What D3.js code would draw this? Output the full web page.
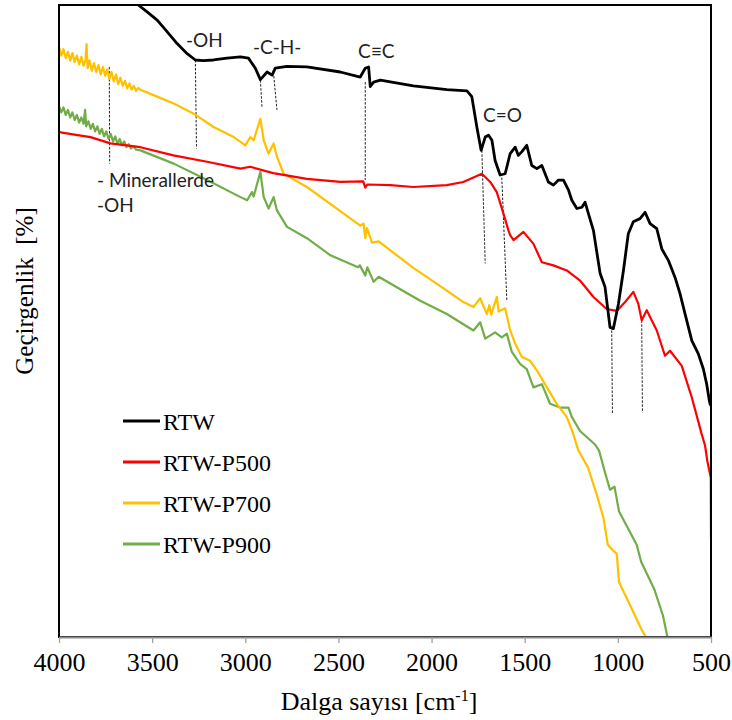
<!DOCTYPE html>
<html>
<head>
<meta charset="utf-8">
<script src="https://cdn.jsdelivr.net/npm/d3@7/dist/d3.min.js"></script>
<style>
  html, body { margin: 0; padding: 0; background: #fff; }
  svg { display: block; }
</style>
</head>
<body>
<div id="chart"></div>
<script>
// ---------------- DATA ----------------
const seriesNames = ["RTW", "RTW-P500", "RTW-P700", "RTW-P900"];
const seriesColors = ["#000000", "#ff0000", "#ffc000", "#70ad47"];
const xTickValues = [4000, 3500, 3000, 2500, 2000, 1500, 1000, 500];
const xTickLabels = ["4000", "3500", "3000", "2500", "2000", "1500", "1000", "500"];
const xTitle = "Dalga sayısı [cm";
const xTitleSup = "-1";
const yTitle = "Geçirgenlik  [%]";

// [wavenumber cm-1, transmittance (arbitrary %)]
const rtw = [
  [4000,110.0],[3800,105.4],[3574,100.0],[3527,98.9],[3473,97.6],[3420,95.8],[3366,93.9],
  [3312,92.3],[3268,91.3],[3225,91.2],[3171,91.3],[3098,91.6],[3026,91.8],[2983,91.6],
  [2946,90.0],[2919,88.2],[2883,89.4],[2856,88.9],[2839,90.0],[2776,90.3],[2669,90.2],
  [2490,89.4],[2383,88.6],[2356,90.0],[2338,90.2],[2329,87.1],[2311,87.8],[2275,88.1],
  [2098,87.2],[1918,86.6],[1810,86.4],[1784,85.5],[1757,80.7],[1734,77.0],[1712,79.1],
  [1694,79.4],[1676,78.6],[1659,75.4],[1632,73.1],[1605,73.3],[1578,76.5],[1551,77.5],
  [1534,76.2],[1515,76.8],[1489,77.8],[1462,74.6],[1435,74.1],[1408,74.6],[1373,72.0],
  [1346,71.5],[1319,72.3],[1292,72.3],[1265,70.7],[1247,69.1],[1220,67.8],[1193,68.0],
  [1176,68.8],[1158,67.0],[1131,64.3],[1095,57.5],[1069,55.4],[1042,49.0],[1024,48.8],
  [997,52.7],[970,58.0],[944,63.8],[917,65.7],[881,66.2],[854,67.2],[827,65.4],[791,64.6],
  [764,61.4],[729,59.6],[693,56.9],[666,54.3],[639,51.1],[603,46.9],[568,44.8],[541,42.4],
  [523,40.0],[509,37.4],[505,36.9],[500,36.6]
];
const rtwP500 = [
  [4000,79.9],[3900,79.4],[3831,79.1],[3724,78.1],[3563,77.5],[3386,76.2],[3205,75.2],[3026,74.1],
  [2973,74.4],[2850,73.4],[2669,72.5],[2490,72.0],[2367,72.1],[2356,71.1],[2345,71.6],
  [2222,71.5],[2098,71.2],[1918,71.5],[1830,72.0],[1730,73.3],[1685,72.0],[1650,70.4],
  [1614,67.0],[1587,64.3],[1578,63.6],[1560,62.8],[1507,64.1],[1453,62.2],[1408,59.3],
  [1346,58.8],[1274,58.0],[1203,56.4],[1131,53.8],[1060,51.9],[1006,51.6],[961,53.0],
  [917,54.6],[890,52.7],[872,50.1],[845,51.7],[791,48.5],[747,44.5],[720,45.3],[657,42.9],
  [603,37.9],[550,32.1],[532,30.3],[520,27.9],[501,25.2],[500,15.6]
];
const rtwP700 = [
  [4000,93.4],[3988,92.0],[3976,93.0],[3964,91.6],[3952,92.6],[3940,91.2],[3928,92.4],
  [3916,91.0],[3904,92.0],[3892,90.6],[3880,91.8],[3868,90.4],[3858,91.2],[3852,93.8],
  [3846,90.0],[3836,91.2],[3824,89.6],[3812,90.8],[3800,89.4],[3788,90.5],[3776,89.0],
  [3764,90.2],[3752,88.8],[3741,89.8],[3730,88.3],[3718,89.4],[3706,87.9],[3694,89.0],
  [3682,87.5],[3670,88.5],[3658,87.2],[3646,88.0],[3634,86.8],[3622,87.6],[3610,86.6],
  [3598,87.2],[3586,86.4],[3574,86.9],[3563,86.6],
  [3473,85.5],[3384,84.4],[3277,82.8],[3170,80.7],[3062,79.1],
  [3000,77.8],[2973,79.1],[2955,78.6],[2919,82.0],[2901,78.6],[2875,76.5],[2848,78.1],
  [2830,76.0],[2794,73.3],[2669,71.2],[2490,67.4],[2383,65.1],[2365,65.4],[2356,63.1],
  [2347,64.7],[2320,62.4],[2284,62.6],[2098,58.4],[1918,54.8],[1829,53.0],[1775,52.2],
  [1739,53.6],[1703,51.1],[1690,52.5],[1680,51.0],[1650,53.8],[1640,51.5],[1605,52.0],
  [1578,48.5],[1551,46.4],[1515,44.3],[1471,43.7],[1435,42.2],[1381,39.5],[1328,36.9],
  [1274,34.8],[1239,32.1],[1212,29.5],[1160,26.8],[1113,22.5],[1077,18.8],[1054,14.6],
  [1030,13.8],[1006,13.2],[994,8.7],[924,4.4],[875,1.3],[840,-0.5]
];
const rtwP900 = [
  [4000,84.0],[3988,83.0],[3976,83.8],[3964,82.6],[3952,83.4],[3940,82.2],[3928,83.0],
  [3916,81.8],[3904,82.6],[3892,81.4],[3880,82.2],[3868,81.2],[3860,83.4],[3854,80.8],
  [3842,81.6],[3830,80.4],[3818,81.2],[3806,80.0],[3794,80.8],[3782,79.6],[3770,80.4],
  [3758,79.2],[3746,80.0],[3734,78.8],[3722,79.6],[3710,78.4],[3698,79.2],[3686,78.0],
  [3674,78.8],[3662,77.8],[3650,78.4],[3638,77.5],[3626,78.0],[3614,77.3],[3600,77.6],
  [3585,77.1],[3563,77.0],
  [3384,74.9],[3205,72.3],[3026,69.6],[2990,69.1],[2964,70.4],[2955,69.7],
  [2919,73.6],[2901,69.6],[2875,67.8],[2848,69.6],[2830,67.5],[2776,64.9],[2669,63.1],
  [2543,60.4],[2395,58.5],[2385,58.8],[2356,57.2],[2345,58.5],[2311,56.2],[2284,57.0],
  [2061,53.2],[1918,51.1],[1775,48.5],[1739,49.8],[1712,47.2],[1659,48.2],[1623,47.4],
  [1596,48.0],[1569,45.1],[1525,43.2],[1489,42.4],[1453,39.5],[1408,40.0],[1364,36.9],
  [1310,36.3],[1265,36.3],[1247,34.8],[1203,32.6],[1124,30.5],[1101,29.5],[1066,25.7],
  [1042,23.3],[1018,23.8],[994,19.9],[899,14.6],[875,11.9],[805,7.6],[758,3.4],[733,-0.1]
];
const seriesData = [rtw, rtwP500, rtwP700, rtwP900];

// peak marker lines: [[wn1, v1], [wn2, v2]]
const peakLines = [
  [[3730, 90.2], [3728, 74.9]],
  [[3268, 91.3], [3262, 77.3]],
  [[2919, 88.1], [2910, 83.7]],
  [[2849, 89.4], [2830, 83.4]],
  [[2356, 87.8], [2356, 72.3]],
  [[1730, 77.0], [1712, 59.1]],
  [[1623, 72.7], [1596, 53.2]],
  [[1033, 48.5], [1029, 35.3]],
  [[872, 50.1], [868, 35.5]]
];
// annotation labels: [text, wn (left edge), v (baseline)]
const peakLabels = [
  ["-OH", 3318, 93.3],
  ["-C-H-", 2959, 92.2],
  ["C≡C", 2395, 91.6],
  ["C=O", 1724, 81.5],
  ["- Minerallerde", 3796, 71.2],
  ["-OH", 3796, 67.2]
];

// ---------------- CHART ----------------
const W = 732, H = 720;
const plot = { left: 59, right: 711, top: 5, bottom: 637 };

const svg = d3.select("#chart").append("svg")
  .attr("width", W).attr("height", H);

const x = d3.scaleLinear().domain([4000, 500]).range([plot.left, plot.right]);
const y = d3.scaleLinear().domain([0, 100]).range([plot.bottom, plot.top]);

svg.append("defs").append("clipPath").attr("id", "clip")
  .append("rect")
  .attr("x", plot.left).attr("y", plot.top)
  .attr("width", plot.right - plot.left).attr("height", plot.bottom - plot.top);

// peak dashed lines
const dl = d3.line().x(d => x(d[0])).y(d => y(d[1]));
svg.append("g").selectAll("path").data(peakLines).join("path")
  .attr("d", dl)
  .attr("fill", "none")
  .attr("stroke", "#222")
  .attr("stroke-width", 1)
  .attr("stroke-dasharray", "2.5,1.5");

// series
const line = d3.line().x(d => x(d[0])).y(d => y(d[1])).curve(d3.curveLinear);
const widths = [2.8, 2.2, 2.2, 2.2];
const g = svg.append("g").attr("clip-path", "url(#clip)");
// draw order: green, yellow, red, black
[3, 2, 1, 0].forEach(i => {
  g.append("path")
    .datum(seriesData[i])
    .attr("d", line)
    .attr("fill", "none")
    .attr("stroke", seriesColors[i])
    .attr("stroke-width", widths[i])
    .attr("stroke-linejoin", "round");
});

// annotation labels
svg.append("g").selectAll("text").data(peakLabels).join("text")
  .attr("x", d => x(d[1]))
  .attr("y", d => y(d[2]))
  .attr("font-family", "Lato, 'Open Sans', sans-serif")
  .attr("font-size", 19)
  .attr("fill", "#222")
  .text(d => d[0]);

// plot frame
svg.append("rect")
  .attr("x", plot.left).attr("y", plot.top)
  .attr("width", plot.right - plot.left).attr("height", plot.bottom - plot.top)
  .attr("fill", "none").attr("stroke", "#000").attr("stroke-width", 2);

// x axis
const xAxis = d3.axisBottom(x)
  .tickValues(xTickValues)
  .tickFormat((d, i) => xTickLabels[i])
  .tickSizeInner(6).tickSizeOuter(0).tickPadding(10);
const ax = svg.append("g")
  .attr("transform", `translate(0,${plot.bottom})`)
  .call(xAxis);
ax.select(".domain").attr("stroke", "#8c8c8c").attr("stroke-width", 2);
ax.selectAll(".tick line").attr("stroke", "#a0a0a0").attr("stroke-width", 1.3);
ax.selectAll(".tick text")
  .attr("font-family", "'Liberation Serif', 'Times New Roman', serif")
  .attr("font-size", 26).attr("fill", "#000");

// x title
const xt = svg.append("text")
  .attr("x", (plot.left + plot.right) / 2 - 6)
  .attr("y", 710)
  .attr("text-anchor", "middle")
  .attr("font-family", "'Liberation Serif', 'Times New Roman', serif")
  .attr("font-size", 26)
  .attr("fill", "#000");
xt.append("tspan").text(xTitle);
xt.append("tspan").attr("dy", -9).attr("font-size", 16).text(xTitleSup);
xt.append("tspan").attr("dy", 9).text("]");

// y title
svg.append("text")
  .attr("transform", `translate(33,${291}) rotate(-90)`)
  .attr("text-anchor", "middle")
  .attr("font-family", "'Liberation Serif', 'Times New Roman', serif")
  .attr("font-size", 25)
  .attr("fill", "#000")
  .attr("xml:space", "preserve")
  .style("white-space", "pre")
  .text(yTitle);

// legend
const legY0 = 421, legStep = 41;
const leg = svg.append("g");
seriesNames.forEach((name, i) => {
  const yy = legY0 + i * legStep;
  leg.append("line")
    .attr("x1", 123).attr("x2", 160).attr("y1", yy).attr("y2", yy)
    .attr("stroke", seriesColors[i]).attr("stroke-width", 3);
  leg.append("text")
    .attr("x", 163).attr("y", yy + 9)
    .attr("font-family", "'Liberation Serif', 'Times New Roman', serif")
    .attr("font-size", 24).attr("fill", "#000")
    .text(name);
});
</script>
</body>
</html>
